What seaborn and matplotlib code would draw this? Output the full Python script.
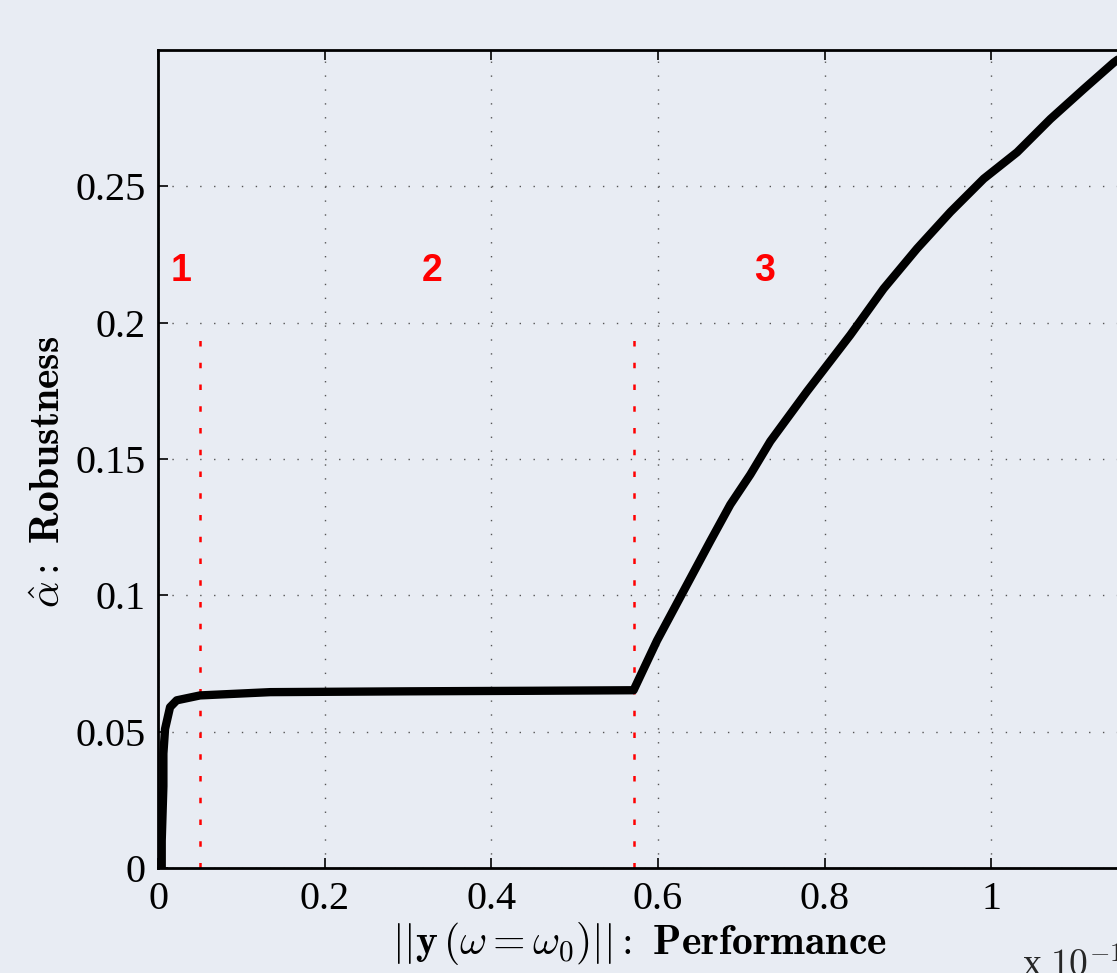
import matplotlib
matplotlib.use("Agg")
import matplotlib.pyplot as plt
import seaborn as sns
import pandas as pd
from matplotlib.ticker import FuncFormatter

# --- data (x in units of 1e-11) ---
perf = [0.0044, 0.0044, 0.0064, 0.0064, 0.0084, 0.0144, 0.0224, 0.0504, 0.1345,
        0.30, 0.45, 0.5706, 0.5987, 0.6306, 0.6627, 0.6867, 0.7107, 0.7347,
        0.7787, 0.8307, 0.8707, 0.9108, 0.9508, 0.9908, 1.0308, 1.0708,
        1.1108, 1.1468, 1.17]
robust = [0.0, 0.010, 0.030, 0.042, 0.051, 0.059, 0.0615, 0.0633, 0.0645,
          0.0648, 0.065, 0.0652, 0.0834, 0.1016, 0.1199, 0.1333, 0.1443, 0.1565,
          0.1748, 0.1955, 0.2125, 0.2272, 0.2406, 0.2528, 0.2625, 0.2747,
          0.2857, 0.2954, 0.3005]
region_bounds = [0.0504, 0.5706]
region_top = 0.199
region_labels = ["1", "2", "3"]
region_label_x = [0.0276, 0.329, 0.7275]
region_label_y = 0.219

x_ticks = [0, 0.2, 0.4, 0.6, 0.8, 1.0]
y_ticks = [0, 0.05, 0.1, 0.15, 0.2, 0.25]

BG = "#e8ecf3"

sns.set_style("ticks")
plt.rcParams["font.family"] = ["Liberation Serif", "DejaVu Serif"]
plt.rcParams["mathtext.fontset"] = "cm"

df = pd.DataFrame({"perf": perf, "robust": robust})

fig = plt.figure(figsize=(11.17, 9.73), dpi=100, facecolor=BG)
ax = fig.add_axes([0.1415, 0.1079, 0.8953, 0.8407])
ax.set_facecolor(BG)

# region boundaries
for xb in region_bounds:
    ax.plot([xb, xb], [0, region_top], color="red", lw=1.8,
            linestyle=(0, (2.2, 6.5)), zorder=2)

sns.lineplot(data=df, x="perf", y="robust", ax=ax, color="black", lw=6,
             sort=False, estimator=None, zorder=3)

for lab, xl in zip(region_labels, region_label_x):
    ax.text(xl, region_label_y, lab, color="red", fontsize=27, fontweight="bold",
            family=["Liberation Sans", "DejaVu Sans"], ha="center", va="center")

ax.set_xlim(0, 1.2)
ax.set_ylim(0, 0.3)
ax.set_xticks(x_ticks)
ax.set_yticks(y_ticks)
fmt = FuncFormatter(lambda v, p: "%g" % round(v, 4))
ax.xaxis.set_major_formatter(fmt)
ax.yaxis.set_major_formatter(fmt)
ax.grid(True, color="#555555", linestyle=(0, (1, 9)), lw=1.0)
ax.tick_params(direction="in", length=7, width=1.2, labelsize=29, pad=9,
               top=True, right=True, colors="black")
for s in ax.spines.values():
    s.set_linewidth(2.0)
    s.set_color("black")

ax.set_xlabel(r"$||\mathbf{y}\,(\omega=\omega_{\mathbf{0}})||\mathbf{:}\ \mathbf{Performance}$",
              fontsize=30, color="black")
ax.set_ylabel(r"$\hat{\alpha}\mathbf{:}\ \mathbf{Robustness}$", fontsize=30,
              color="black")
ax.xaxis.set_label_coords(0.481, -0.064)
ax.yaxis.set_label_coords(-0.089, 0.484)

fig.text(0.915, -0.003, r"x $10^{-11}$", fontsize=27, ha="left", va="baseline")

fig.savefig("out.png", dpi=100, facecolor=BG)
